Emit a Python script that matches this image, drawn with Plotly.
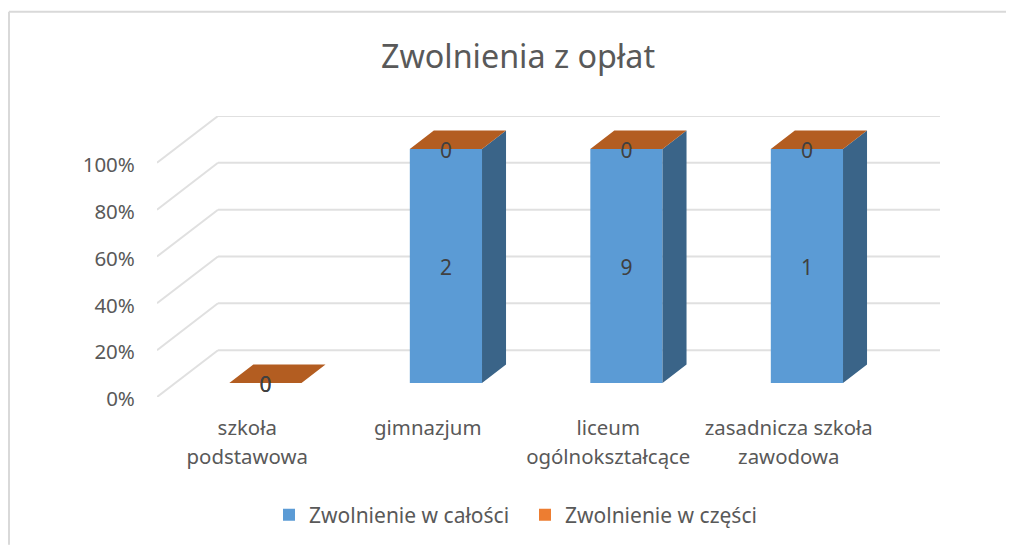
import plotly.graph_objects as go

categories = ["szkoła<br>podstawowa", "gimnazjum", "liceum<br>ogólnokształcące", "zasadnicza szkoła<br>zawodowa"]
full_exemption = [0, 2, 9, 1]
partial_exemption = [0, 0, 0, 0]
series_names = ["Zwolnienie w całości", "Zwolnienie w części"]
y_ticks = [0, 0.2, 0.4, 0.6, 0.8, 1.0]

FONT = "Noto Sans"
TEXT = "#595959"
BLUE, BLUE_SIDE = "#5B9BD5", "#3A6488"
ORANGE, ORANGE_TOP = "#ED7D31", "#B35D21"
GRID = "#E0E0E0"

# pseudo-3D projection: a unit of depth shifts right and up
DX = 61 / 180.5
DY = 0.2
BAR_FRONT = 14 / 47
BAR_DEPTH = 18.5 / 47
BAR_W = 0.40
LABEL_NUDGE = 3.5 / 234.6


def proj(x, v, d):
    return x + d * DX, v + d * DY


totals = [a + b for a, b in zip(full_exemption, partial_exemption)]
share_a = [a / t if t else 0 for a, t in zip(full_exemption, totals)]
share_b = [b / t if t else 0 for b, t in zip(partial_exemption, totals)]
tops = [a + b for a, b in zip(share_a, share_b)]
xs = list(range(len(categories)))

d0, d1 = BAR_FRONT, BAR_FRONT + BAR_DEPTH
side_x, side_y, top_x, top_y = [], [], [], []
for i, t in zip(xs, tops):
    r = i + BAR_W / 2
    l = i - BAR_W / 2
    pts = [proj(r, 0, d0), proj(r, t, d0), proj(r, t, d1), proj(r, 0, d1), proj(r, 0, d0)]
    side_x += [p[0] for p in pts] + [None]
    side_y += [p[1] for p in pts] + [None]
    pts = [proj(l, t, d0), proj(r, t, d0), proj(r, t, d1), proj(l, t, d1), proj(l, t, d0)]
    top_x += [p[0] for p in pts] + [None]
    top_y += [p[1] for p in pts] + [None]

base = proj(0, 0, d0)[1]
bar_x = [proj(i, 0, d0)[0] for i in xs]

fig = go.Figure()
fig.add_bar(x=bar_x, y=share_a, base=[base] * 4, width=BAR_W, name=series_names[0],
            marker=dict(color=BLUE, line=dict(width=0)), hoverinfo="skip")
fig.add_bar(x=bar_x, y=share_b, base=[base + s for s in share_a], width=BAR_W, name=series_names[1],
            marker=dict(color=ORANGE, line=dict(width=0)), hoverinfo="skip")
fig.add_scatter(x=side_x, y=side_y, mode="lines", fill="toself", fillcolor=BLUE_SIDE,
                line=dict(width=0), showlegend=False, hoverinfo="skip")
fig.add_scatter(x=top_x, y=top_y, mode="lines", fill="toself", fillcolor=ORANGE_TOP,
                line=dict(width=0), showlegend=False, hoverinfo="skip")

lab_font = dict(family=FONT, size=21, color="#404040")
fig.add_scatter(x=bar_x, y=[base + s / 2 - LABEL_NUDGE for s in share_a],
                text=[str(v) for v in full_exemption],
                mode="text", textfont=lab_font, showlegend=False, hoverinfo="skip")
fig.add_scatter(x=bar_x, y=[base + t - LABEL_NUDGE for t in tops], text=[str(v) for v in partial_exemption],
                mode="text", textfont=lab_font, showlegend=False, hoverinfo="skip")

X0, X1 = -0.5, len(categories) - 0.5
shapes = []
for t in y_ticks:
    a = proj(X0, t, 0)
    b = proj(X0, t, 1)
    c = proj(X1, t, 1)
    shapes.append(dict(type="line", xref="x", yref="y", x0=a[0], y0=a[1], x1=b[0], y1=b[1],
                       line=dict(color=GRID, width=2), layer="below"))
    shapes.append(dict(type="line", xref="x", yref="y", x0=b[0], y0=b[1], x1=c[0], y1=c[1],
                       line=dict(color=GRID, width=2), layer="below"))

# the page body adds an 8 px margin, so the figure is 8 px smaller and coordinates are shifted
W, H = 1006, 537
L, R, T, B = 149, 74, 107.5, 148
PW, PH = W - L - R, H - T - B
border_x = (1 - L) / PW
border_y = 1 + (T - 3) / PH
shapes.append(dict(type="line", xref="paper", yref="paper", x0=border_x, x1=border_x,
                   y0=-B / PH, y1=border_y, line=dict(color="#D9D9D9", width=2)))
shapes.append(dict(type="line", xref="paper", yref="paper", x0=border_x, x1=(W - L) / PW,
                   y0=border_y, y1=border_y, line=dict(color="#D9D9D9", width=2)))

line1 = [c.split("<br>")[0] for c in categories]
line2 = [c.split("<br>")[1] if "<br>" in c else "" for c in categories]
tick_font = dict(family=FONT, size=20.4, color=TEXT)

# invisible carrier for the second tick-label line
fig.add_scatter(x=xs, y=[0] * 4, xaxis="x2", mode="markers", marker=dict(opacity=0),
                showlegend=False, hoverinfo="skip")

fig.update_layout(
    width=W, height=H, autosize=False, margin=dict(l=L, r=R, t=T, b=B),
    paper_bgcolor="white", plot_bgcolor="rgba(0,0,0,0)",
    barmode="overlay", shapes=shapes,
    title=dict(text="Zwolnienia z opłat", x=510 / W, xanchor="center", y=1 - 49 / H, yanchor="middle",
               font=dict(family=FONT, size=32.3, color=TEXT)),
    font=dict(family=FONT, size=20, color=TEXT),
    legend=dict(orientation="h", x=261 / W, xref="container", y=1 - 507 / H, yref="container", yanchor="middle",
                xanchor="left", font=dict(family=FONT, size=21, color=TEXT), bgcolor="rgba(0,0,0,0)",
                entrywidth=211, entrywidthmode="pixels"),
    xaxis=dict(range=[X0, X1 + DX], tickmode="array", tickvals=xs, ticktext=line1,
               showgrid=False, zeroline=False, showline=False, ticks="outside", ticklen=13,
               tickcolor="rgba(0,0,0,0)", tickfont=tick_font, tickangle=0),
    xaxis2=dict(range=[X0, X1 + DX], overlaying="x", anchor="y", side="bottom", tickmode="array",
                tickvals=xs, ticktext=line2, showgrid=False, zeroline=False, showline=False,
                ticks="outside", ticklen=42, tickcolor="rgba(0,0,0,0)", tickfont=tick_font, tickangle=0),
    yaxis=dict(range=[0, 1.2], tickmode="array", tickvals=y_ticks, tickformat=".0%",
               showgrid=False, zeroline=False, showline=False, ticks="outside", ticklen=17,
               ticklabelshift=2, tickcolor="rgba(0,0,0,0)", tickfont=dict(family=FONT, size=20.5, color=TEXT)),
)
fig.write_html("out.html", config=dict(displayModeBar=False))
